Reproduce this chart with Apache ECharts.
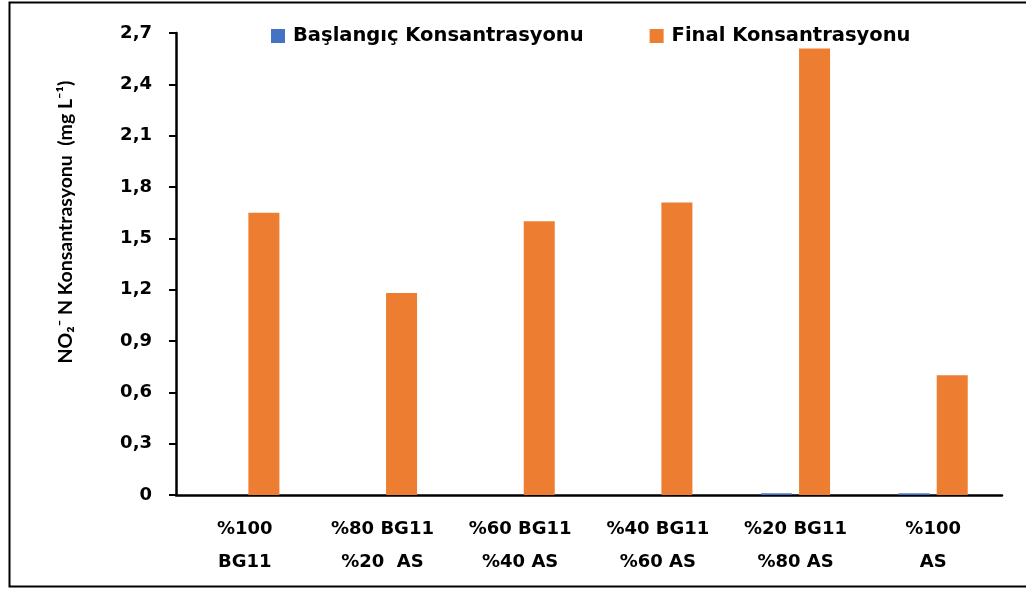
<!DOCTYPE html>
<html>
<head>
<meta charset="utf-8">
<script src="https://cdn.jsdelivr.net/npm/echarts@6/dist/echarts.min.js"></script>
<style>
html,body{margin:0;padding:0;background:#fff;}
#c{width:1026px;height:589px;}
</style>
</head>
<body>
<div id="c"></div>
<script>
const categories = ["%100\nBG11", "%80 BG11\n%20  AS", "%60 BG11\n%40 AS", "%40 BG11\n%60 AS", "%20 BG11\n%80 AS", "%100\nAS"];
const seriesNames = ["Başlangıç Konsantrasyonu", "Final Konsantrasyonu"];
const initialValues = [0, 0, 0, 0, 0.01, 0.01];
const finalValues = [1.65, 1.18, 1.6, 1.71, 2.61, 0.7];
const yTicks = [0, 0.3, 0.6, 0.9, 1.2, 1.5, 1.8, 2.1, 2.4, 2.7];
const yAxisTitle = "NO₂⁻ N Konsantrasyonu  (mg L⁻¹)";

const AXFONT = "'DejaVu Sans', sans-serif";
const FONT = "Lato, 'DejaVu Sans', sans-serif";
const chart = echarts.init(document.getElementById('c'));
chart.setOption({
  animation: false,
  backgroundColor: '#fff',
  grid: {left: 176, right: 24, top: 33, bottom: 94, containLabel: false},
  legend: {
    top: 21, left: 266,
    itemWidth: 14, itemHeight: 14, itemGap: 66,
    icon: 'rect',
    textStyle: {fontFamily: AXFONT, fontWeight: 'bold', fontSize: 19.5, color: '#000', padding: [0, 0, 0, 3]},
    data: seriesNames
  },
  xAxis: {
    type: 'category',
    data: categories,
    axisLine: {lineStyle: {color: '#000', width: 2.5}},
    axisTick: {show: false},
    axisLabel: {fontFamily: AXFONT, fontWeight: 'bold', fontSize: 18, color: '#000', margin: 18, lineHeight: 33, interval: 0}
  },
  yAxis: {
    type: 'value',
    min: yTicks[0], max: yTicks[yTicks.length - 1], interval: 0.3,
    splitLine: {show: false},
    axisLine: {show: true, lineStyle: {color: '#000', width: 2.5}},
    axisTick: {show: true, length: 7, lineStyle: {color: '#000', width: 2}},
    axisLabel: {
      fontFamily: AXFONT, fontWeight: 'bold', fontSize: 18, color: '#000', margin: 24,
      formatter: v => v === 0 ? '0' : v.toFixed(1).replace('.', ',')
    }
  },
  series: [
    {name: seriesNames[0], type: 'bar', data: initialValues, itemStyle: {color: '#4472C4'}, barWidth: 31, barGap: '23%'},
    {name: seriesNames[1], type: 'bar', data: finalValues, itemStyle: {color: '#ED7D31'}, barWidth: 31, barGap: '23%'}
  ],
  graphic: [
    {type: 'rect', shape: {x: 9.5, y: 2.5, width: 1030, height: 584}, style: {fill: 'none', stroke: '#000', lineWidth: 2}, silent: true},
    {type: 'text', x: 66, y: 222, rotation: Math.PI / 2,
     style: {text: yAxisTitle, font: "bold 19.5px " + FONT, fill: '#000', align: 'center', verticalAlign: 'middle'}}
  ]
});
</script>
</body>
</html>
